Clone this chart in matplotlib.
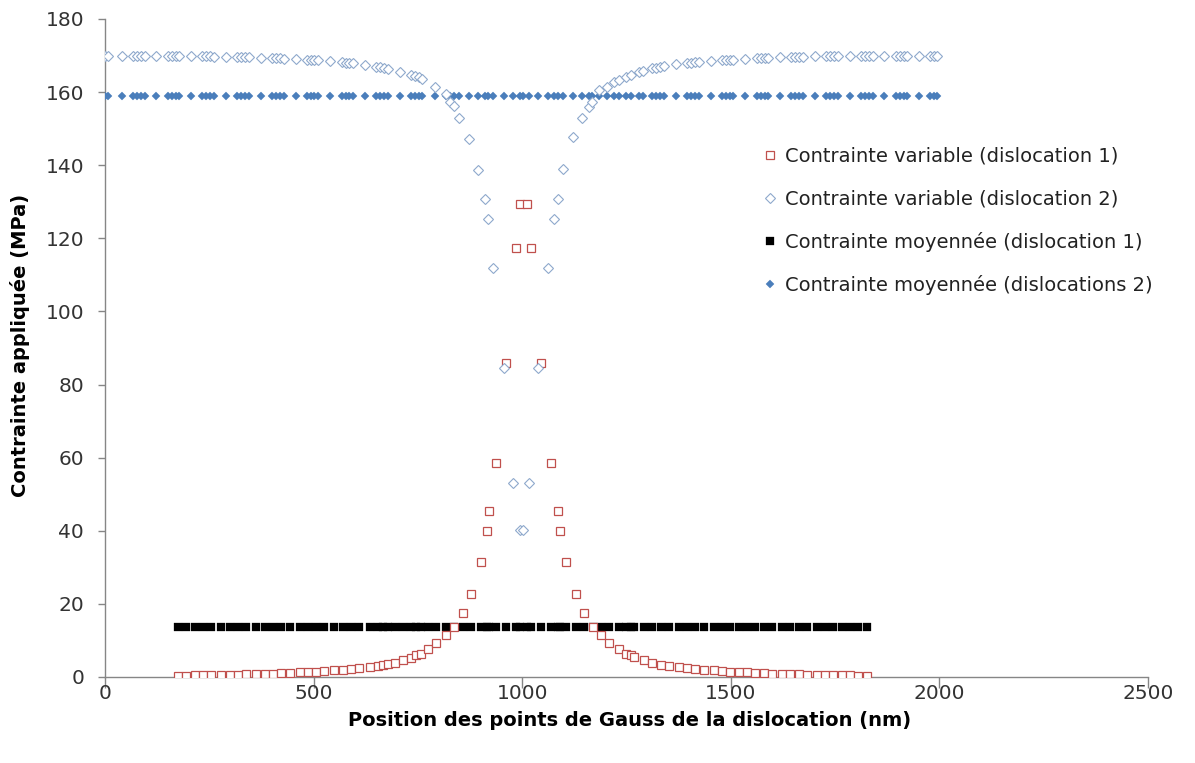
import matplotlib
matplotlib.use("Agg")
import matplotlib.pyplot as plt
import numpy as np

# ---------------- data ----------------
# Dislocation 1 : Gauss point positions (nm) and variable stress (MPa)
x_disl1 = [175, 195, 215, 235, 255, 279, 299, 319, 339, 363, 383, 403, 423, 443,
           467, 486, 506, 526, 550, 570, 590, 610, 634, 654, 666, 678, 694, 714,
           734, 746, 758, 774, 793, 817, 837, 857, 877, 902, 916, 921, 938, 961,
           984, 995,
           1011, 1022, 1045, 1068, 1085, 1090, 1104, 1129, 1149, 1169, 1189, 1208,
           1232, 1248, 1260, 1268, 1292, 1312, 1332, 1352, 1376, 1395, 1415, 1435,
           1459, 1479, 1499, 1519, 1539, 1559, 1579, 1599, 1623, 1643, 1663, 1683,
           1706, 1726, 1746, 1766, 1786, 1806, 1826]
stress_var_1 = [0.4, 0.4, 0.45, 0.5, 0.5, 0.55, 0.6, 0.65, 0.7, 0.75, 0.8, 0.9, 1.0, 1.1,
                1.25, 1.35, 1.5, 1.65, 1.85, 2.0, 2.2, 2.4, 2.7, 3.0, 3.2, 3.5, 3.9, 4.6,
                5.3, 5.9, 6.4, 7.6, 9.2, 11.5, 13.8, 17.4, 22.6, 31.5, 40.0, 45.4, 58.5, 86.0,
                117.3, 129.5,
                129.5, 117.3, 86.0, 58.5, 45.4, 40.0, 31.5, 22.6, 17.4, 13.8, 11.5, 9.4,
                7.6, 6.4, 5.9, 5.4, 4.6, 3.9, 3.4, 3.0, 2.6, 2.4, 2.2, 2.0,
                1.8, 1.65, 1.5, 1.35, 1.25, 1.1, 1.0, 0.9, 0.8, 0.75, 0.7, 0.65,
                0.6, 0.55, 0.5, 0.5, 0.45, 0.4, 0.4]
stress_mean_1 = 13.7

# Dislocation 2 : Gauss point positions (nm) and variable stress (MPa)
x_disl2 = [0, 8, 40, 67, 77, 86, 95, 123, 150, 160, 169, 178, 207, 233, 243, 252, 261,
           290, 317, 327, 336, 345, 373, 400, 410, 419, 428, 457, 483, 493, 502, 511,
           540, 567, 577, 586, 595, 623, 650, 660, 669, 678, 707, 733, 743, 752, 761,
           790, 817, 827, 836, 849, 873, 893, 911, 917, 931, 957, 977, 994,
           1001, 1017, 1039, 1061, 1077, 1085, 1098, 1122, 1143, 1159, 1167, 1184,
           1204, 1220, 1232, 1248, 1261, 1280, 1290, 1311, 1320, 1330, 1340, 1368,
           1395, 1405, 1414, 1423, 1452, 1478, 1488, 1497, 1506, 1535, 1562, 1572,
           1581, 1590, 1618, 1645, 1655, 1664, 1673, 1702, 1728, 1738, 1747, 1756,
           1785, 1812, 1822, 1831, 1840, 1868, 1895, 1905, 1914, 1923, 1952, 1978,
           1987, 1995]
stress_var_2 = [170.0, 170.0, 170.0, 170.0, 170.0, 170.0, 170.0, 170.0, 170.0, 169.9, 169.9,
                169.9, 169.9, 169.8, 169.8, 169.8, 169.7,
                169.7, 169.6, 169.6, 169.5, 169.5, 169.4, 169.3, 169.2, 169.2, 169.1,
                169.0, 168.8, 168.8, 168.7, 168.7,
                168.4, 168.2, 168.1, 168.0, 167.9, 167.5, 167.0, 166.8, 166.6, 166.4,
                165.6, 164.8, 164.4, 164.0, 163.6,
                161.5, 159.5, 157.4, 156.3, 152.8, 147.3, 138.7, 130.7, 125.2, 111.8,
                84.4, 53.0, 40.3,
                40.3, 53.0, 84.4, 111.8, 125.3, 130.7, 138.9, 147.6, 152.8, 155.8, 157.4,
                160.6,
                161.3, 162.8, 163.3, 164.2, 164.7, 165.5, 165.8, 166.5, 166.7, 166.9,
                167.1, 167.8,
                168.0, 168.1, 168.2, 168.3, 168.5, 168.7, 168.8, 168.9, 168.9, 169.1,
                169.3, 169.3,
                169.4, 169.4, 169.5, 169.6, 169.6, 169.7, 169.7, 169.8, 169.8, 169.9,
                169.9, 169.9,
                169.9, 170.0, 170.0, 170.0, 170.0, 170.0, 170.0, 170.0, 170.0, 170.0,
                170.0, 170.0, 170.0, 170.0]
stress_mean_2 = 158.8

labels = ["Contrainte variable (dislocation 1)",
          "Contrainte variable (dislocation 2)",
          "Contrainte moyennée (dislocation 1)",
          "Contrainte moyennée (dislocations 2)"]
x_ticks = [0, 500, 1000, 1500, 2000, 2500]
y_ticks = [0, 20, 40, 60, 80, 100, 120, 140, 160, 180]

# ---------------- figure ----------------
W, H = 1195, 763
fig = plt.figure(figsize=(W / 100, H / 100), dpi=100)
ax = fig.add_axes([105 / W, 1 - 677 / H, (1148 - 105) / W, (677 - 19) / H])

red = "#C0504D"
lightblue = "#8FA9CC"
blue = "#4A7EBB"

h3, = ax.plot(x_disl1, np.full(len(x_disl1), stress_mean_1), ls="none", marker="s",
              ms=6.1, mfc="black", mec="black", mew=0.2, zorder=3)
h4, = ax.plot(x_disl2, np.full(len(x_disl2), stress_mean_2), ls="none", marker="D",
              ms=3.9, mfc=blue, mec=blue, mew=0.3, zorder=3)
h1, = ax.plot(x_disl1, stress_var_1, ls="none", marker="s", ms=5.8,
              mfc="white", mec=red, mew=0.9, zorder=4)
h2, = ax.plot(x_disl2, stress_var_2, ls="none", marker="D", ms=5.0,
              mfc="white", mec=lightblue, mew=0.8, zorder=4)

ax.set_xlim(0, 2500)
ax.set_ylim(0, 180)
ax.set_xticks(x_ticks)
ax.set_yticks(y_ticks)

for s in ["top", "right"]:
    ax.spines[s].set_visible(False)
for s in ["left", "bottom"]:
    ax.spines[s].set_color("#868686")
    ax.spines[s].set_linewidth(1.0)

ax.tick_params(axis="y", direction="out", length=5, width=1, color="#868686",
               pad=10, labelsize=14.5, labelcolor="#333333")
ax.tick_params(axis="x", direction="out", length=8, width=1, color="#868686",
               pad=-3, labelsize=14.5, labelcolor="#333333")
for lab in ax.get_xticklabels() + ax.get_yticklabels():
    lab.set_family("DejaVu Sans")

ax.set_xlabel("Position des points de Gauss de la dislocation (nm)",
              fontfamily="DejaVu Sans", fontweight="bold", fontsize=14, va="center")
ax.set_ylabel("Contrainte appliquée (MPa)",
              fontfamily="DejaVu Sans", fontweight="bold", fontsize=14, va="center")
ax.xaxis.set_label_coords((629.5 - 105) / 1043, (677 - 720) / 658)
ax.yaxis.set_label_coords((20 - 105) / 1043, (677 - 345) / 658)

leg = ax.legend([h1, h2, h3, h4], labels, loc="upper left",
                bbox_to_anchor=(763 / W, 1 - 147 / H), bbox_transform=fig.transFigure,
                frameon=False, prop={"family": "DejaVu Sans", "size": 14},
                handlelength=0.7, handletextpad=0.45, labelspacing=1.2,
                borderpad=0, borderaxespad=0, markerscale=1.0)
for t in leg.get_texts():
    t.set_color("#222222")

fig.savefig("out.png", dpi=100)
